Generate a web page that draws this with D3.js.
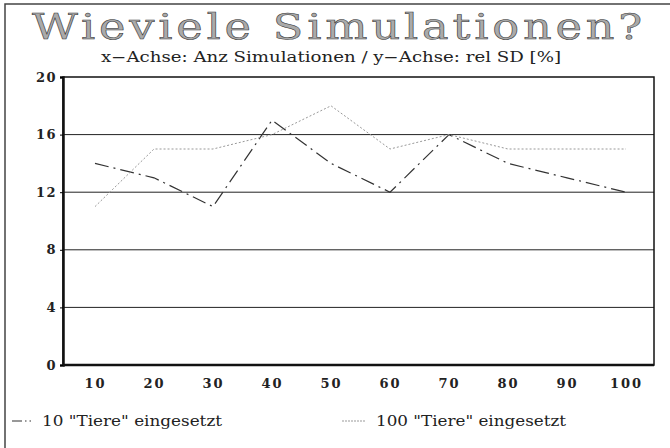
<!DOCTYPE html>
<html>
<head>
<meta charset="utf-8">
<script src="https://cdn.jsdelivr.net/npm/d3@7"></script>
<style>
  body { margin: 0; background: #fff; }
  svg { display: block; }
  text { font-family: "DejaVu Serif", serif; }
</style>
</head>
<body>
<div id="drawing_region"></div>
<script>
// Anzahl Simulationen (x) und rel SD in % (y)
const categories = [10, 20, 30, 40, 50, 60, 70, 80, 90, 100];
const tiere10 = [14, 13, 11, 17, 14, 12, 16, 14, 13, 12];
const tiere100 = [11, 15, 15, 16, 18, 15, 16, 15, 15, 15];
const yTicks = [0, 4, 8, 12, 16, 20];
const seriesNames = ['10 "Tiere" eingesetzt', '100 "Tiere" eingesetzt'];

const width = 670, height = 448;
const margin = { top: 77, right: 16, bottom: 83, left: 63 };
const serif = '"DejaVu Serif", serif';

const svg = d3.select('#drawing_region')
    .append('svg')
    .attr('width', width)
    .attr('height', height)
    .attr('viewBox', `0 0 ${width} ${height}`);

// aeusserer Rahmen (nur oben und links sichtbar)
svg.append('path')
    .attr('d', `M5,${height} L5,4 L${width},4`)
    .attr('fill', 'none')
    .attr('stroke', '#444')
    .attr('stroke-width', 1.5);

svg.append('text')
    .attr('x', 339)
    .attr('y', 39)
    .attr('text-anchor', 'middle')
    .style('font-family', serif)
    .attr('font-size', 35)
    .attr('letter-spacing', 3)
    .attr('textLength', 614)
    .attr('lengthAdjust', 'spacingAndGlyphs')
    .attr('fill', '#aaa')
    .attr('stroke', '#333')
    .attr('stroke-width', 0.5)
    .text('Wieviele Simulationen?');

svg.append('text')
    .attr('x', 331)
    .attr('y', 62)
    .attr('text-anchor', 'middle')
    .style('font-family', serif)
    .attr('font-size', 14)
    .attr('textLength', 460)
    .attr('lengthAdjust', 'spacingAndGlyphs')
    .attr('fill', '#222')
    .text('x\u2212Achse: Anz Simulationen / y\u2212Achse: rel SD [%]');

const x = d3.scalePoint()
    .domain(categories)
    .range([95, 626]);

const y = d3.scaleLinear()
    .domain([0, 20])
    .range([height - margin.bottom, margin.top]);

const x0 = margin.left, x1 = width - margin.right;

// Gitterlinien
svg.append('g')
    .selectAll('line')
    .data(yTicks.filter(d => d > 0 && d < 20))
    .join('line')
    .attr('x1', x0)
    .attr('x2', x1)
    .attr('y1', d => y(d))
    .attr('y2', d => y(d))
    .attr('stroke', '#222')
    .attr('stroke-width', 1);

// Plotrahmen
svg.append('rect')
    .attr('x', x0)
    .attr('y', y(20))
    .attr('width', x1 - x0)
    .attr('height', y(0) - y(20))
    .attr('fill', 'none')
    .attr('stroke', '#111')
    .attr('stroke-width', 1.5);

const yAxis = svg.append('g')
    .attr('transform', `translate(${x0},0)`)
    .call(d3.axisLeft(y).tickValues(yTicks).tickSize(3).tickPadding(3));
yAxis.select('.domain').attr('stroke', '#111').attr('stroke-width', 2.5);
yAxis.selectAll('text')
    .style('font-family', serif)
    .attr('font-weight', 'bold')
    .attr('font-size', 13)
    .attr('letter-spacing', 1.5)
    .attr('fill', '#222');

const xAxis = svg.append('g')
    .attr('transform', `translate(0,${y(0)})`)
    .call(d3.axisBottom(x).tickSize(0).tickPadding(14));
xAxis.select('.domain').remove();
xAxis.selectAll('text')
    .style('font-family', serif)
    .attr('font-weight', 'bold')
    .attr('font-size', 13)
    .attr('letter-spacing', 2)
    .attr('fill', '#222');

svg.append('line')
    .attr('x1', x0).attr('x2', x1)
    .attr('y1', y(0)).attr('y2', y(0))
    .attr('stroke', '#111')
    .attr('stroke-width', 2.5);

const line = d3.line()
    .x((d, i) => x(categories[i]))
    .y(d => y(d));

const styles = [
    { color: '#333', width: 1.2, dash: '14,5,2,5' },
    { color: '#999', width: 1, dash: '2,2' }
];

[tiere10, tiere100].forEach((vals, k) => {
    svg.append('path')
        .datum(vals)
        .attr('d', line)
        .attr('fill', 'none')
        .attr('stroke', styles[k].color)
        .attr('stroke-width', styles[k].width)
        .attr('stroke-dasharray', styles[k].dash);
});

// Legende
const legendX = [12, 342];
const legendLen = [180, 190];
const legend = svg.append('g')
    .selectAll('g')
    .data(seriesNames)
    .join('g')
    .attr('transform', (d, i) => `translate(${legendX[i]},421)`);

legend.append('line')
    .attr('x1', 0).attr('x2', 24)
    .attr('stroke', (d, i) => styles[i].color)
    .attr('stroke-width', (d, i) => styles[i].width)
    .attr('stroke-dasharray', (d, i) => i === 0 ? '10,3,1.5,3,1.5' : '2,1');

legend.append('text')
    .attr('x', (d, i) => i === 0 ? 30 : 34)
    .attr('dy', '0.35em')
    .style('font-family', serif)
    .attr('font-size', 14)
    .attr('textLength', (d, i) => legendLen[i])
    .attr('lengthAdjust', 'spacingAndGlyphs')
    .attr('fill', '#222')
    .text(d => d);
</script>
</body>
</html>
